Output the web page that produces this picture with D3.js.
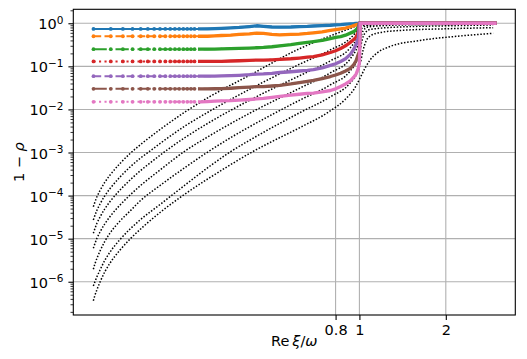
<!DOCTYPE html>
<html>
<head>
<meta charset="utf-8">
<script src="https://cdn.jsdelivr.net/npm/d3@7"></script>
<style>
  body { margin: 0; background: #fff; }
  text { font-family: "DejaVu Sans", sans-serif; fill: #000; }
</style>
</head>
<body>
<svg id="chart" width="527" height="359"></svg>
<script>
// sample points along Re xi / omega, shared by the coloured curves
const xs = [0.008, 0.016, 0.024, 0.032, 0.04, 0.048, 0.056, 0.064, 0.072, 0.08, 0.088, 0.096,
  0.104, 0.112, 0.12, 0.128, 0.136, 0.144, 0.16, 0.18, 0.2, 0.23, 0.26, 0.3, 0.33, 0.36, 0.4,
  0.44, 0.5, 0.55, 0.6, 0.64, 0.7, 0.76, 0.8, 0.84, 0.88, 0.92, 0.95, 0.97, 0.99, 1.0, 1.008,
  1.5, 2.0, 2.4, 2.82];

// 1 - rho for each coloured run (same length as xs)
const blue = [0.74, 0.74, 0.74, 0.74, 0.74, 0.74, 0.74, 0.74, 0.74, 0.74, 0.74, 0.74,
  0.74, 0.74, 0.74, 0.74, 0.74, 0.74, 0.745, 0.75, 0.76, 0.78, 0.80, 0.84, 0.875, 0.85, 0.82,
  0.81, 0.82, 0.84, 0.85, 0.865, 0.88, 0.90, 0.92, 0.93, 0.95, 0.97, 0.98, 0.99, 0.995, 1, 1,
  1, 1, 1, 1];
const orange = [0.5, 0.5, 0.5, 0.5, 0.5, 0.5, 0.5, 0.5, 0.5, 0.5, 0.5, 0.5,
  0.5, 0.5, 0.5, 0.5, 0.5, 0.5, 0.5, 0.51, 0.52, 0.53, 0.55, 0.57, 0.59, 0.58, 0.55,
  0.54, 0.55, 0.56, 0.58, 0.60, 0.63, 0.68, 0.71, 0.74, 0.77, 0.83, 0.88, 0.92, 0.96, 1, 1,
  1, 1, 1, 1];
const green = [0.25, 0.25, 0.25, 0.25, 0.25, 0.25, 0.25, 0.25, 0.25, 0.25, 0.25, 0.25,
  0.25, 0.25, 0.25, 0.25, 0.25, 0.25, 0.25, 0.252, 0.255, 0.258, 0.26, 0.265, 0.27, 0.275, 0.285,
  0.30, 0.32, 0.34, 0.36, 0.375, 0.40, 0.44, 0.47, 0.49, 0.53, 0.59, 0.64, 0.70, 0.82, 1, 1,
  1, 1, 1, 1];
const red = [0.13, 0.13, 0.13, 0.13, 0.13, 0.13, 0.13, 0.13, 0.13, 0.13, 0.13, 0.13,
  0.13, 0.13, 0.13, 0.13, 0.13, 0.13, 0.13, 0.13, 0.131, 0.133, 0.135, 0.138, 0.14, 0.14, 0.142,
  0.145, 0.15, 0.156, 0.163, 0.168, 0.185, 0.21, 0.23, 0.26, 0.30, 0.36, 0.42, 0.48, 0.62, 1, 1,
  1, 1, 1, 1];
const purple = [0.059, 0.059, 0.059, 0.059, 0.059, 0.059, 0.059, 0.059, 0.059, 0.059, 0.059, 0.059,
  0.059, 0.059, 0.059, 0.059, 0.059, 0.059, 0.059, 0.0595, 0.060, 0.061, 0.062, 0.064, 0.066, 0.067, 0.069,
  0.072, 0.075, 0.078, 0.081, 0.084, 0.092, 0.105, 0.115, 0.13, 0.15, 0.19, 0.25, 0.32, 0.45, 1, 1,
  1, 1, 1, 1];
const brown = [0.03, 0.03, 0.03, 0.03, 0.03, 0.03, 0.03, 0.03, 0.03, 0.03, 0.03, 0.03,
  0.03, 0.03, 0.03, 0.03, 0.03, 0.03, 0.03, 0.0302, 0.0305, 0.031, 0.032, 0.033, 0.034, 0.034, 0.035,
  0.036, 0.039, 0.042, 0.045, 0.047, 0.052, 0.058, 0.063, 0.069, 0.078, 0.09, 0.11, 0.135, 0.19, 0.22, 1,
  1, 1, 1, 1];
const pink = [0.015, 0.015, 0.015, 0.015, 0.015, 0.015, 0.015, 0.015, 0.015, 0.015, 0.015, 0.015,
  0.015, 0.015, 0.015, 0.015, 0.015, 0.015, 0.0152, 0.0155, 0.0158, 0.016, 0.0165, 0.017, 0.0175, 0.018, 0.019,
  0.020, 0.0215, 0.0225, 0.0235, 0.024, 0.0255, 0.0275, 0.030, 0.034, 0.039, 0.046, 0.056, 0.066, 0.09, 0.12, 1,
  1, 1, 1, 1];

// black dotted curves, [Re xi / omega, 1 - rho]
const dot1 = [[0.00794, 5.52e-5], [0.00935, 9.52e-5], [0.0106, 1.312e-4], [0.0129, 2.067e-4],
  [0.0156, 3.004e-4], [0.0219, 5.555e-4], [0.0298, 9.48e-4], [0.0393, 1.494e-3], [0.0641, 3.42e-3],
  [0.1075, 8.72e-3], [0.167, 0.01998], [0.3022, 0.063], [0.5545, 0.2601], [0.7581, 0.5071],
  [0.9184, 0.7571], [1.0, 0.9131], [1.0998, 0.9633], [1.6542, 0.9894], [2.7578, 1.0]];
const dot2 = [[0.00794, 2.71e-5], [0.00935, 4.63e-5], [0.0106, 6.38e-5], [0.0129, 1.004e-4],
  [0.0156, 1.46e-4], [0.0219, 2.7e-4], [0.0298, 4.61e-4], [0.0393, 7.26e-4], [0.0532, 1.175e-3],
  [0.0641, 1.619e-3], [0.1075, 4.126e-3], [0.167, 9.2e-3], [0.3022, 0.02982], [0.5545, 0.1135],
  [0.7581, 0.2399], [0.9184, 0.4437], [0.9794, 0.6625], [1.0063, 0.7989], [1.0523, 0.9131],
  [1.4143, 0.9633], [2.7578, 0.9894]];
const dot3 = [[0.00794, 1.331e-5], [0.00935, 2.31e-5], [0.0106, 3.18e-5], [0.0129, 5.01e-5],
  [0.0156, 7.29e-5], [0.0219, 1.348e-4], [0.0298, 2.3e-4], [0.0393, 3.72e-4], [0.0507, 5.71e-4],
  [0.0716, 1.055e-3], [0.1075, 2.23e-3], [0.167, 5.11e-3], [0.3022, 0.01656], [0.5545, 0.0614],
  [0.7581, 0.1332], [0.9184, 0.267], [0.9794, 0.4557], [1.0063, 0.6625], [1.043, 0.8427],
  [1.2008, 0.9378], [2.7578, 0.9788]];
const dot4 = [[0.00794, 5.97e-6], [0.00935, 1.035e-5], [0.0106, 1.427e-5], [0.0129, 2.247e-5],
  [0.0156, 3.27e-5], [0.0219, 6.04e-5], [0.0298, 1.031e-4], [0.0393, 1.669e-4], [0.0641, 3.93e-4],
  [0.1075, 1.084e-3], [0.167, 2.48e-3], [0.3022, 8.27e-3], [0.5545, 0.03147], [0.7581, 0.0702],
  [0.9184, 0.1483], [0.9794, 0.2742], [1.0063, 0.4319], [1.0338, 0.6625], [1.0806, 0.8206],
  [1.4143, 0.9131], [2.7578, 0.953]];
const dot5 = [[0.00794, 1.942e-6], [0.00857, 2.648e-6], [0.00935, 3.554e-6], [0.0106, 5.17e-6],
  [0.0129, 8.82e-6], [0.0156, 1.352e-5], [0.0219, 2.57e-5], [0.0298, 4.385e-5], [0.0393, 7.48e-5],
  [0.0641, 1.714e-4], [0.1075, 4.49e-4], [0.1589, 1.0e-3], [0.228, 2.172e-3], [0.3022, 4.017e-3],
  [0.5545, 0.01656], [0.7581, 0.03693], [0.9184, 0.0781], [0.9794, 0.1405], [1.0063, 0.2399],
  [1.0246, 0.4095], [1.0523, 0.5955], [1.0998, 0.7178], [1.4143, 0.8206], [2.0627, 0.8749],
  [2.7578, 0.9131]];
const dot6 = [[0.00794, 7.96e-7], [0.00857, 1.012e-6], [0.00935, 1.322e-6], [0.0106, 1.871e-6],
  [0.0129, 3.19e-6], [0.0156, 4.9e-6], [0.0219, 9.55e-6], [0.0298, 1.675e-5], [0.0393, 2.71e-5],
  [0.0641, 6.21e-5], [0.1075, 1.76e-4], [0.167, 4.86e-4], [0.228, 1.027e-3], [0.3022, 1.952e-3],
  [0.5545, 8.49e-3], [0.7581, 0.01945], [0.9184, 0.0411], [0.9794, 0.0702], [1.0063, 0.1135],
  [1.0338, 0.2399], [1.0617, 0.3882], [1.0998, 0.5071], [1.2008, 0.6115], [1.4143, 0.6805],
  [2.0627, 0.749], [2.7578, 0.7904]];
const dot7 = [[0.00794, 3.62e-7], [0.00857, 4.91e-7], [0.00935, 6.6e-7], [0.0106, 9.85e-7],
  [0.0129, 1.727e-6], [0.0156, 2.72e-6], [0.0219, 5.45e-6], [0.0298, 9.81e-6], [0.0448, 2.074e-5],
  [0.0641, 4.05e-5], [0.1075, 1.088e-4], [0.167, 2.63e-4], [0.228, 5.13e-4], [0.3104, 1.027e-3],
  [0.3909, 1.708e-3], [0.5545, 3.81e-3], [0.7581, 9.2e-3], [0.8764, 0.017], [0.9617, 0.0323],
  [1.0063, 0.0537], [1.0523, 0.0917], [1.0998, 0.1405], [1.1684, 0.2044], [1.3036, 0.2893],
  [1.6542, 0.3987], [2.2124, 0.5071], [2.7578, 0.5857]];

const xTicks = [0.8, 1, 2];
const xTickLabels = ['0.8', '1', '2'];
const yTicks = [1, 1e-1, 1e-2, 1e-3, 1e-4, 1e-5, 1e-6];
const yTickLabels = ['0', '\u22121', '\u22122', '\u22123', '\u22124', '\u22125', '\u22126'];

const runs = [blue, orange, green, red, purple, brown, pink];
const dotted = [dot1, dot2, dot3, dot4, dot5, dot6, dot7];
const colours = ['#1f77b4', '#ff7f0e', '#2ca02c', '#d62728', '#9467bd', '#8c564b', '#e377c2'];
const dashes = [null, '7.7,3.3', '13.3,3.3,2.1,3.3', '2.1,3.4', '7.7,3.3', '13.3,3.3,2.1,3.3', '2.1,3.4'];

const plotL = 73.3, plotR = 515.3, plotT = 9.3, plotB = 315;
const fontSize = 14.5;

const svg = d3.select('#chart');

// cube-root x axis, log y axis
const x = d3.scalePow().exponent(1 / 3).domain([0.0027, 3.17]).range([plotL, plotR]);
const y = d3.scaleLog().domain([1.69e-7, 2.11]).range([plotB, plotT]);

svg.append('defs').append('clipPath').attr('id', 'plot')
  .append('rect').attr('x', plotL).attr('y', plotT).attr('width', plotR - plotL).attr('height', plotB - plotT);

// grid
const grid = svg.append('g').attr('stroke', '#b0b0b0').attr('stroke-width', 1.1);
grid.selectAll('.gx').data(xTicks).enter().append('line')
  .attr('class', 'gx')
  .attr('x1', d => x(d)).attr('x2', d => x(d))
  .attr('y1', plotT).attr('y2', plotB);
grid.selectAll('.gy').data(yTicks).enter().append('line')
  .attr('class', 'gy')
  .attr('x1', plotL).attr('x2', plotR)
  .attr('y1', d => y(d)).attr('y2', d => y(d));

const plot = svg.append('g').attr('clip-path', 'url(#plot)');

// black dotted curves go underneath
const dotLine = d3.line().x(d => x(d[0])).y(d => y(d[1])).curve(d3.curveMonotoneX);
plot.selectAll('.dot').data(dotted).enter().append('path')
  .attr('class', 'dot')
  .attr('d', dotLine)
  .attr('fill', 'none')
  .attr('stroke', '#000')
  .attr('stroke-width', 1.5)
  .attr('stroke-dasharray', '1.5,1.7');

// coloured runs: styled line, dense marker band, markers
const runLine = d3.line().x(d => x(d[0])).y(d => y(d[1]));
runs.forEach((vals, i) => {
  const pts = xs.map((v, j) => [v, vals[j]]);
  const g = plot.append('g');
  g.append('path')
    .attr('d', runLine(pts))
    .attr('fill', 'none')
    .attr('stroke', colours[i])
    .attr('stroke-width', 2)
    .attr('stroke-dasharray', dashes[i]);
  // markers sit ~1px apart here, so they read as a thick line
  g.append('path')
    .attr('d', runLine(pts.filter(p => p[0] >= 0.136)))
    .attr('fill', 'none')
    .attr('stroke', colours[i])
    .attr('stroke-width', 3.3)
    .attr('stroke-linejoin', 'round');
  g.selectAll('circle').data(pts.filter(p => p[0] < 0.136)).enter().append('circle')
    .attr('cx', d => x(d[0]))
    .attr('cy', d => y(d[1]))
    .attr('r', 1.9)
    .attr('fill', colours[i]);
});

// spines
svg.append('rect')
  .attr('x', plotL).attr('y', plotT)
  .attr('width', plotR - plotL).attr('height', plotB - plotT)
  .attr('fill', 'none').attr('stroke', '#000').attr('stroke-width', 1.1);

// x axis
const xAxis = svg.append('g').attr('transform', `translate(0,${plotB})`)
  .call(d3.axisBottom(x).tickValues(xTicks).tickSize(4.9).tickPadding(4.9)
    .tickFormat((d, i) => xTickLabels[i]));
xAxis.select('.domain').remove();
xAxis.selectAll('.tick line').attr('stroke', '#000').attr('stroke-width', 1.1);
xAxis.selectAll('.tick text').attr('font-size', fontSize).attr('font-family', 'DejaVu Sans')
  .attr('dy', '0.71em').attr('fill', '#000');

// y axis, major then minor ticks
const minor = [];
for (let e = -7; e <= 0; e++) {
  for (let m = 2; m <= 9; m++) {
    const v = m * Math.pow(10, e);
    if (v >= 1.69e-7 && v <= 2.11) minor.push(v);
  }
}
const yMinor = svg.append('g').attr('transform', `translate(${plotL},0)`)
  .call(d3.axisLeft(y).tickValues(minor).tickSize(2.8).tickFormat(''));
yMinor.select('.domain').remove();
yMinor.selectAll('.tick line').attr('stroke', '#000').attr('stroke-width', 0.8);

const yAxis = svg.append('g').attr('transform', `translate(${plotL},0)`)
  .call(d3.axisLeft(y).tickValues(yTicks).tickSize(4.9).tickFormat(''));
yAxis.select('.domain').remove();
yAxis.selectAll('.tick line').attr('stroke', '#000').attr('stroke-width', 1.1);

const yLab = svg.append('g');
yTicks.forEach((d, i) => {
  const t = yLab.append('text')
    .attr('x', plotL - 9.8)
    .attr('y', y(d) + 6)
    .attr('text-anchor', 'end')
    .attr('font-size', fontSize);
  t.append('tspan').text('10');
  t.append('tspan').attr('dy', -5.6).attr('font-size', 10.5).text(yTickLabels[i]);
});

// axis labels
const xl = svg.append('text')
  .attr('x', (plotL + plotR) / 2)
  .attr('y', 346)
  .attr('text-anchor', 'middle')
  .attr('font-size', fontSize);
xl.append('tspan').text('Re\u2009');
xl.append('tspan').attr('font-style', 'italic').text('\u03be');
xl.append('tspan').text('/');
xl.append('tspan').attr('font-style', 'italic').text('\u03c9');

const yl = svg.append('text')
  .attr('transform', `translate(24,${(plotT + plotB) / 2}) rotate(-90)`)
  .attr('text-anchor', 'middle')
  .attr('font-size', fontSize);
yl.append('tspan').text('1 \u2212 ');
yl.append('tspan').attr('font-style', 'italic').text('\u03c1');
</script>
</body>
</html>
